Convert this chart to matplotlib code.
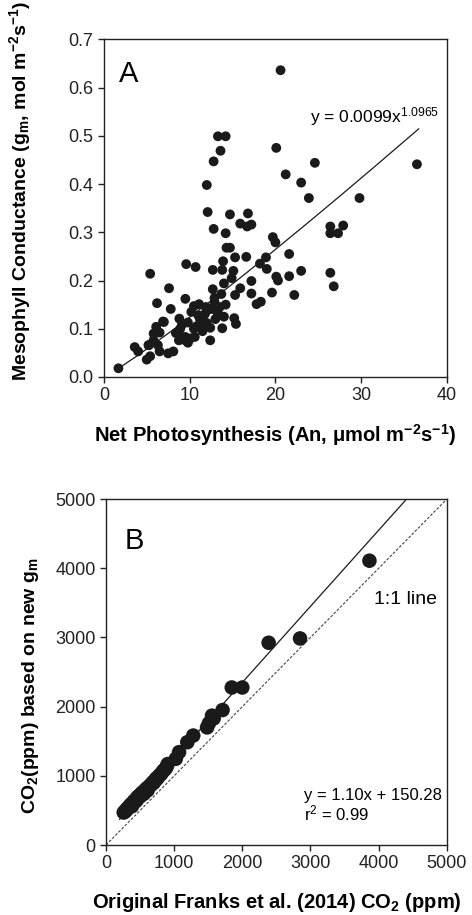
import matplotlib
matplotlib.use("Agg")
import matplotlib.pyplot as plt

plt.rcParams['font.family'] = ['Liberation Sans', 'DejaVu Sans']
plt.rcParams['mathtext.fontset'] = 'custom'
plt.rcParams['mathtext.rm'] = 'Liberation Sans'
plt.rcParams['mathtext.it'] = 'Liberation Sans:italic'
plt.rcParams['mathtext.bf'] = 'Liberation Sans:bold'

# Panel A: net photosynthesis vs mesophyll conductance
an = [20.6, 13.3, 14.2, 13.6, 20.1, 12.8, 24.6, 36.5, 21.2, 23.0, 12.0,
      23.9, 29.8, 12.1, 14.7, 16.8, 15.9, 17.2, 16.7, 12.8, 14.2,
      26.4, 27.9, 26.4, 27.3, 19.7, 20.0, 14.3, 14.7,
      15.3, 16.6, 18.9, 21.6, 9.6, 10.7, 13.9, 18.2, 19.0,
      12.7, 13.8, 15.1, 5.4, 23.0, 26.4, 20.1, 21.6, 20.3, 14.9, 14.0, 17.2,
      7.6, 12.7, 15.9, 26.8, 13.7, 15.3, 17.2, 19.6, 22.2,
      9.5, 6.2, 12.9, 17.8, 18.3, 10.5, 11.1, 7.8, 12.6, 12.2, 12.75,
      13.4, 11.8, 13.3, 8.8, 15.2, 11.4, 11.2, 9.1, 7.0, 6.9, 9.8, 12.0, 15.4,
      6.1, 13.8, 8.9, 5.8, 6.5, 8.4, 8.7, 9.5, 10.6,
      9.8, 12.4, 8.75, 9.5, 10.1, 5.8, 3.6, 5.2, 6.3, 5.25,
      4.0, 6.5, 7.5, 8.1, 5.0, 5.4, 1.7,
      10.2, 11.0, 10.5, 11.5, 12.4,
      12.9, 13.5, 14.2, 11.9, 13.0, 14.0, 10.8, 11.6]
gm = [0.636, 0.499, 0.499, 0.469, 0.475, 0.447, 0.444, 0.441, 0.420, 0.403, 0.398,
      0.371, 0.371, 0.342, 0.337, 0.339, 0.318, 0.316, 0.312, 0.307, 0.298,
      0.312, 0.314, 0.298, 0.298, 0.290, 0.279, 0.268, 0.268,
      0.248, 0.249, 0.248, 0.255, 0.234, 0.228, 0.240, 0.235, 0.224,
      0.222, 0.222, 0.220, 0.214, 0.220, 0.216, 0.208, 0.209, 0.200, 0.205, 0.194, 0.199,
      0.184, 0.182, 0.184, 0.188, 0.172, 0.170, 0.173, 0.175, 0.170,
      0.162, 0.153, 0.164, 0.151, 0.156, 0.147, 0.151, 0.141, 0.141, 0.140, 0.144,
      0.129, 0.131, 0.130, 0.121, 0.122, 0.121, 0.120, 0.108, 0.114, 0.115, 0.113, 0.112, 0.110,
      0.104, 0.101, 0.100, 0.090, 0.092, 0.091, 0.090, 0.083, 0.083,
      0.071, 0.076, 0.076, 0.076, 0.080, 0.076, 0.062, 0.066, 0.066, 0.066,
      0.053, 0.053, 0.049, 0.053, 0.036, 0.043, 0.018,
      0.135, 0.128, 0.100, 0.095, 0.102,
      0.155, 0.145, 0.150, 0.145, 0.120, 0.125, 0.105, 0.108]

# power fit y = 0.0099 x^1.0965, x values along the drawn line
fit_a_x = [1.7, 4, 8, 12, 16, 20, 24, 28, 32, 36.7]
fit_a_coef, fit_a_exp = 0.0099, 1.0965

# Panel B: original vs recalculated CO2
co2_orig = [260, 275, 290, 300, 310, 320, 330, 345, 355, 370, 380, 390, 400, 415,
            425, 440, 450, 460, 475, 490, 500, 510, 525, 540, 555, 565, 580, 600,
            610, 625, 640, 655, 670, 690, 700, 720, 735, 750, 770, 790, 810, 830,
            850, 870, 890, 905, 1024, 1072, 1193, 1280, 1483, 1510, 1555, 1580,
            1710, 1845, 2000, 2386, 2847, 3865]
co2_new = [470, 480, 500, 505, 525, 530, 545, 560, 575, 590, 560, 610, 600, 640,
           630, 640, 650, 690, 700, 715, 700, 730, 750, 760, 740, 780, 800, 820,
           790, 840, 850, 870, 880, 910, 900, 930, 960, 960, 990, 1010, 1030, 1060,
           1080, 1100, 1130, 1170, 1246, 1342, 1486, 1582, 1700, 1760, 1870, 1830,
           1951, 2277, 2277, 2924, 2986, 4110]

fit_b_x = [200, 4409]
fit_b_slope, fit_b_icpt = 1.10, 150.28
one_to_one = [0, 5000]

fig = plt.figure(figsize=(4.72, 9.15), dpi=100)

# ---- Panel A ----
ax1 = fig.add_axes([0.220, 0.588, 0.727, 0.369])
ax1.scatter(an, gm, s=50, color='#1a1a1a', edgecolors='none', zorder=3)
ax1.plot(fit_a_x, [fit_a_coef * x ** fit_a_exp for x in fit_a_x], color='#1a1a1a', lw=0.9, zorder=2)
ax1.set_xlim(0, 40)
ax1.set_ylim(0, 0.7)
ax1.set_xticks([0, 10, 20, 30, 40])
ax1.set_yticks([0.0, 0.1, 0.2, 0.3, 0.4, 0.5, 0.6, 0.7])
ax1.set_yticklabels(['0.0', '0.1', '0.2', '0.3', '0.4', '0.5', '0.6', '0.7'])
ax1.text(1.8, 0.612, 'A', fontsize=21)
ax1.text(24.0, 0.528, r'y = 0.0099x$^{1.0965}$', fontsize=12.5)
ax1.set_xlabel(r'Net Photosynthesis (An, μmol m$^{\mathbf{-2}}$s$^{\mathbf{-1}}$)',
               fontsize=14.5, fontweight='bold')
ax1.set_ylabel(r'Mesophyll Conductance (g$_{\mathbf{m}}$, mol m$^{\mathbf{-2}}$s$^{\mathbf{-1}}$)',
               fontsize=14, fontweight='bold')
ax1.xaxis.set_label_coords(0.5, -0.135)
ax1.yaxis.set_label_coords(-0.205, 0.55)

# ---- Panel B ----
ax2 = fig.add_axes([0.2246, 0.0765, 0.722, 0.378])
ax2.plot(one_to_one, one_to_one, color='#444444', lw=0.8, ls=(0, (2.5, 1.5)), zorder=1)
ax2.plot(fit_b_x, [fit_b_slope * x + fit_b_icpt for x in fit_b_x], color='#1a1a1a', lw=0.9, zorder=2)
ax2.scatter(co2_orig, co2_new, s=110, color='#1a1a1a', edgecolors='none', zorder=3)
ax2.set_xlim(0, 5000)
ax2.set_ylim(0, 5000)
ax2.set_xticks([0, 1000, 2000, 3000, 4000, 5000])
ax2.set_yticks([0, 1000, 2000, 3000, 4000, 5000])
ax2.text(270, 4280, 'B', fontsize=21)
ax2.text(3930, 3480, '1:1 line', fontsize=14)
ax2.text(2900, 350, 'y = 1.10x + 150.28\nr$^2$ = 0.99', fontsize=12, linespacing=1.05)
ax2.set_xlabel(r'Original Franks et al. (2014) CO$_{\mathbf{2}}$ (ppm)',
               fontsize=14.5, fontweight='bold')
ax2.set_ylabel(r'CO$_{\mathbf{2}}$(ppm) based on new g$_{\mathbf{m}}$',
               fontsize=14, fontweight='bold')
ax2.xaxis.set_label_coords(0.5, -0.133)
ax2.yaxis.set_label_coords(-0.19, 0.46)

for ax in (ax1, ax2):
    for sp in ax.spines.values():
        sp.set_linewidth(1.0)
        sp.set_color('#222222')
    ax.tick_params(direction='out', length=4, width=1.0, labelsize=13, colors='#222222')

fig.savefig('out.png', dpi=100)
